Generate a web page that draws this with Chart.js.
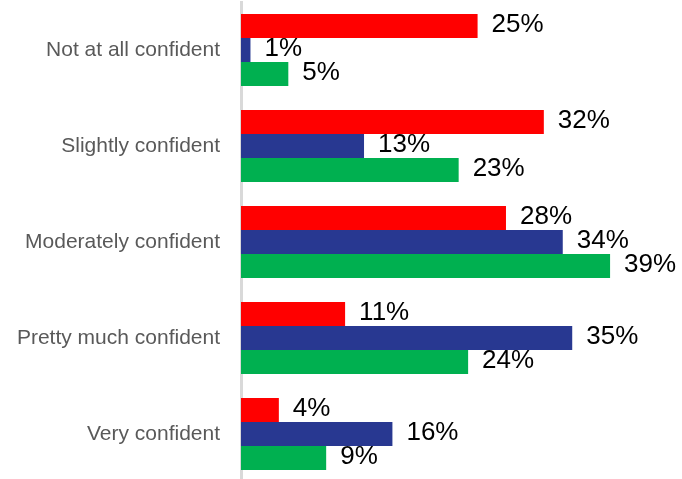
<!DOCTYPE html>
<html>
<head>
  <meta charset="utf-8">
  <title>Confidence</title>
  <style>
    body { margin: 0; padding: 0; background: #fff; overflow: hidden; }
    #wrap { width: 682px; height: 482px; }
  </style>
</head>
<body>
  <div id="wrap"><canvas id="chart"></canvas></div>
  <script src="https://cdn.jsdelivr.net/npm/chart.js"></script>
  <script>
    // categories and the three series
    var categories = ['Not at all confident', 'Slightly confident', 'Moderately confident', 'Pretty much confident', 'Very confident'];
    var redValues = [25, 32, 28, 11, 4];
    var blueValues = [1, 13, 34, 35, 16];
    var greenValues = [5, 23, 39, 24, 9];

    // writes the percentage to the right of each bar
    var valueLabels = {
      id: 'valueLabels',
      afterDatasetsDraw: function(chart) {
        var ctx = chart.ctx;
        ctx.save();
        ctx.font = '26px "Liberation Sans", Arial, sans-serif';
        ctx.fillStyle = '#000';
        ctx.textAlign = 'left';
        ctx.textBaseline = 'middle';
        chart.data.datasets.forEach(function(ds, i) {
          chart.getDatasetMeta(i).data.forEach(function(bar, j) {
            ctx.fillText(ds.data[j] + '%', bar.x + 14, bar.y - 1);
          });
        });
        ctx.restore();
      }
    };

    new Chart(document.getElementById('chart'), {
      type: 'bar',
      data: {
        labels: categories,
        datasets: [
          { data: redValues, backgroundColor: '#FF0000' },
          { data: blueValues, backgroundColor: '#283891' },
          { data: greenValues, backgroundColor: '#00B050' }
        ]
      },
      options: {
        indexAxis: 'y',
        responsive: true,
        maintainAspectRatio: false,
        animation: false,
        layout: { padding: { top: 2, right: 0, bottom: 0, left: 0 } },
        datasets: { bar: { categoryPercentage: 0.75, barPercentage: 1.0 } },
        plugins: { legend: { display: false }, tooltip: { enabled: false } },
        scales: {
          x: { display: false, min: 0, max: 46.6 },
          y: {
            afterFit: function(scale) {
              scale.width = 241;
              scale.paddingTop = 0;
              scale.paddingBottom = 0;
            },
            grid: { display: false, drawTicks: false },
            border: { color: '#D9D9D9', width: 3 },
            ticks: {
              padding: 21,
              color: '#595959',
              font: { family: '"Liberation Sans", Arial, sans-serif', size: 21 }
            }
          }
        }
      },
      plugins: [valueLabels]
    });
  </script>
</body>
</html>
